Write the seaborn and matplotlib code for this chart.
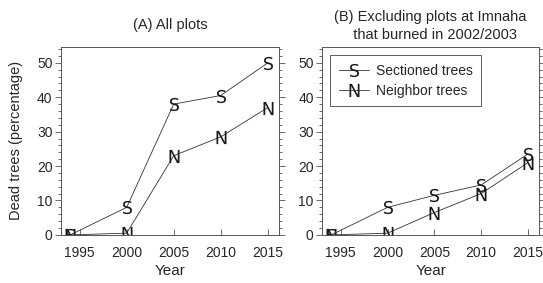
import matplotlib
matplotlib.use("Agg")
import matplotlib.pyplot as plt
from matplotlib.ticker import MultipleLocator
import seaborn as sns
import pandas as pd

sns.set_theme(style="white")
plt.rcParams['font.family'] = ['Liberation Sans', 'DejaVu Sans']

# Survey years (first point is the 1994 baseline)
years = [1994, 2000, 2005, 2010, 2015]

# (A) All plots
all_sectioned = [0, 8, 38, 40.5, 50]
all_neighbor = [0, 0.5, 23, 28.5, 37]

# (B) Excluding plots at Imnaha that burned in 2002/2003
excl_sectioned = [0, 8, 11.5, 14.5, 23.5]
excl_neighbor = [0, 0.5, 6.5, 12, 21]

xticks = [1995, 2000, 2005, 2010, 2015]
yticks = [0, 10, 20, 30, 40, 50]

series_names = ['Sectioned trees', 'Neighbor trees']
markers = {'Sectioned trees': r'$\mathsf{S}$', 'Neighbor trees': r'$\mathsf{N}$'}
palette = {'Sectioned trees': '#333333', 'Neighbor trees': '#333333'}


def to_long(sectioned, neighbor):
    return pd.DataFrame({
        'Year': years * 2,
        'Dead': sectioned + neighbor,
        'Series': [series_names[0]] * len(years) + [series_names[1]] * len(years),
    })


def draw_panel(ax, df, title, pad, legend=False):
    sns.lineplot(
        data=df, x='Year', y='Dead', hue='Series', style='Series',
        markers=markers, dashes=False, palette=palette,
        linewidth=0.6, markersize=9.5, markeredgewidth=0,
        markerfacecolor='#1a1a1a',
        legend=legend, ax=ax
    )
    ax.set_xlim(1993, 2016.2)
    ax.set_ylim(0, 54.6)
    ax.set_xticks(xticks)
    ax.set_yticks(yticks)
    ax.yaxis.set_minor_locator(MultipleLocator(2))
    ax.tick_params(axis='y', which='both', direction='out', left=True, right=True,
                   color='#555555', width=0.6, labelsize=10, pad=2)
    ax.tick_params(axis='y', which='major', length=4)
    ax.tick_params(axis='y', which='minor', length=2.5)
    ax.tick_params(axis='x', which='major', direction='in', bottom=True, length=4,
                   color='#555555', width=0.6, labelsize=10, pad=8)
    for sp in ax.spines.values():
        sp.set_color('#555555')
        sp.set_linewidth(0.7)
    ax.set_xlabel('Year', fontsize=11, labelpad=3)
    ax.set_title(title, fontsize=10.5, pad=pad, linespacing=1.35)


fig = plt.figure(figsize=(5.43, 2.83), dpi=100)
ax1 = fig.add_axes([0.112, 0.170, 0.402, 0.664])
ax2 = fig.add_axes([0.593, 0.170, 0.400, 0.664])

draw_panel(ax1, to_long(all_sectioned, all_neighbor), '(A) All plots', pad=13)
ax1.set_ylabel('Dead trees (percentage)', fontsize=10.5, labelpad=10)

draw_panel(ax2, to_long(excl_sectioned, excl_neighbor),
           '(B) Excluding plots at Imnaha\n  that burned in 2002/2003', pad=6, legend=True)
ax2.set_ylabel('')
leg = ax2.legend(loc='upper left', fontsize=10, frameon=True, fancybox=False,
                 edgecolor='#333333', borderaxespad=0.6, handlelength=2.2,
                 borderpad=0.6, labelspacing=0.45, handletextpad=0.5)
leg.get_frame().set_linewidth(0.7)

fig.savefig('out.png', dpi=100)
